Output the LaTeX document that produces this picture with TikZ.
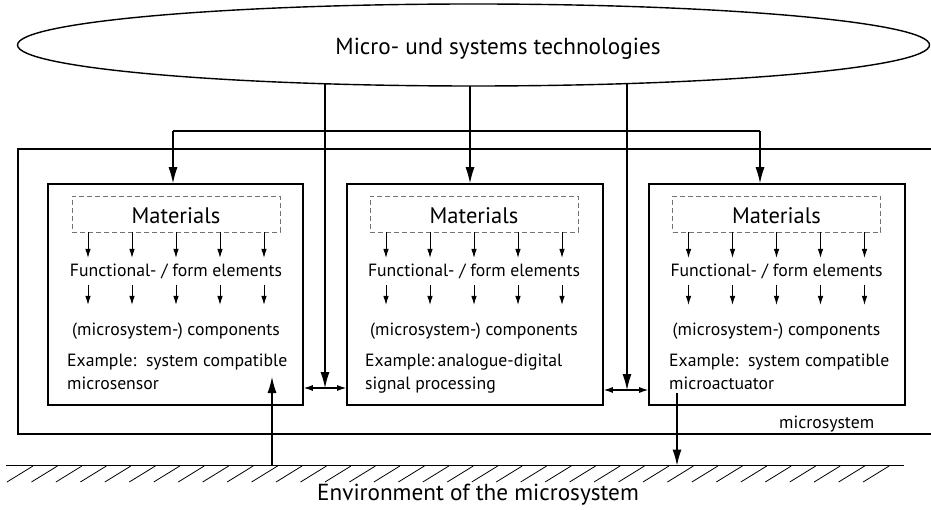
\documentclass[tikz,border=0pt]{standalone}
\usepackage{fontspec}
\setmainfont{PT Sans}
\usetikzlibrary{shapes.geometric,arrows.meta,backgrounds}
\begin{document}
\begin{tikzpicture}[x=1pt,y=-1pt,
  frame/.style={draw,line width=1.6pt,inner sep=0pt},
  matbox/.style={draw=black!55,dashed,dash pattern=on 5pt off 3pt,line width=0.9pt,minimum width=208pt,minimum height=36pt,inner sep=0pt},
  conn/.style={line width=1.1pt},
  bigtip/.style={conn,-{Latex[length=16pt,width=9pt]}},
  midtip/.style={conn,{Latex[length=9pt,width=6pt]}-{Latex[length=9pt,width=6pt]}},
  smalltip/.style={line width=1pt,-{Latex[length=9pt,width=5.5pt]}},
  boxtxt/.style={font=\fontsize{17.7}{20}\selectfont,inner sep=0pt},
  mattxt/.style={font=\fontsize{22.5}{26}\selectfont,inner sep=0pt},
  bigtxt/.style={font=\fontsize{23.2}{26}\selectfont,inner sep=0pt}
]
\useasboundingbox (0,0) rectangle (931,510);

% ellipse
\node[ellipse,draw,line width=1.4pt,fill=white,minimum width=912pt,minimum height=82pt,inner sep=0pt] (E) at (473.5,45) {};
\node[bigtxt,anchor=base] (Et) at (498,55) {Micro- und systems technologies};

% outer microsystem frame (open to the right)
\draw[line width=1.6pt] (931,149) -- (18,149) -- (18,434) -- (931,434);
\node[boxtxt,anchor=base west] (ms) at (779,428) {microsystem};

% three component boxes
\node[frame,minimum width=255pt,minimum height=221pt] (B1) at (175.5,294.5) {};
\node[frame,minimum width=256pt,minimum height=221pt] (B2) at (475,294.5) {};
\node[frame,minimum width=256pt,minimum height=221pt] (B3) at (777,294.5) {};

\foreach \b/\c/\ex/\la/\lb in {1/176/67/{Example:\ \ system compatible}/{microsensor},
                              2/474/365/{Example:\,analogue-digital}/{signal processing},
                              3/776.5/669/{Example:\ \ system compatible}/{microactuator}}{
  \node[matbox] (M\b) at (\c,214) {};
  \node[mattxt,anchor=base] (Mt\b) at (\c,224) {Materials};
  \node[boxtxt,anchor=base] (F\b) at (\c,277) {Functional- / form elements};
  \node[boxtxt,anchor=base] (C\b) at (\c,335) {(microsystem-) components};
  \node[boxtxt,anchor=base west] (Xa\b) at (\ex,366) {\la};
  \node[boxtxt,anchor=base west] (Xb\b) at (\ex,389) {\lb};
  \foreach \k in {-2,...,2}{
    \draw[smalltip] (\c+44*\k,232) -- (\c+44*\k,258);
    \draw[smalltip] (\c+44*\k,285) -- (\c+44*\k,305);
  }
}

% bracket from the technologies to the three boxes
\coordinate (j) at (470,131);
\coordinate (bl) at (173,131);
\coordinate (br) at (760,131);
\begin{scope}[on background layer]
  \draw[conn] (E.center -| j) -- (j);
\end{scope}
\draw[conn] (bl) -- (br);
\draw[bigtip] (bl) -- (bl |- B1.north);
\draw[bigtip] (j) -- (j |- B2.north);
\draw[bigtip] (br) -- (br |- B3.north);

% technology lines to the interfaces
\coordinate (d1) at (325,388);
\coordinate (d2) at (627,390);
\begin{scope}[on background layer]
  \draw[conn] (E.center -| d1) -- (d1 |- E.south);
  \draw[conn] (E.center -| d2) -- (d2 |- E.south);
\end{scope}
\draw[bigtip] (d1 |- E.south) -- (d1);
\draw[bigtip] (d2 |- E.south) -- (d2);
\draw[midtip] (B1.east |- d1) -- (B2.west |- d1);
\draw[midtip] (B2.east |- d2) -- (B3.west |- d2);

% environment
\coordinate (g0) at (6,465.5);
\coordinate (g9) at (904,465.5);
\draw[line width=1.6pt] (g0) -- (g9);
\foreach \i in {0,...,35}{
  \draw[line width=0.8pt] (7+24.46*\i,482) -- (33+24.46*\i,466);
}
\node[bigtxt,anchor=base] (env) at (478,500) {Environment of the microsystem};

% sensor input and actuator output
\coordinate (s0) at (272,465.5);
\coordinate (s1) at (272,377);
\draw[bigtip] (s0) -- (s1);
\coordinate (a0) at (677,393);
\coordinate (a1) at (677,465.5);
\draw[bigtip] (a0) -- (a1);
\end{tikzpicture}
\end{document}
